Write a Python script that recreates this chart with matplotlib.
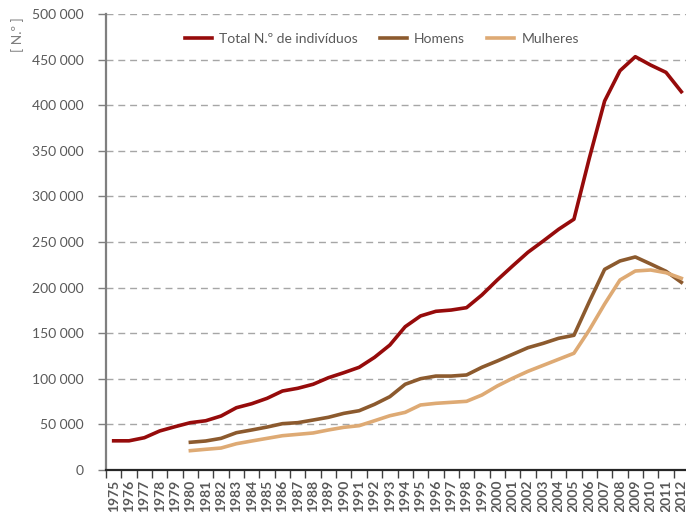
import matplotlib
matplotlib.use("Agg")
import matplotlib.pyplot as plt
import numpy as np
from matplotlib.ticker import FuncFormatter

# anos 1975-2012
anos = list(range(1975, 2013))

total = [32000, 32000, 35400, 42800, 47500, 51900, 54000, 59200, 68300, 72700,
         78600, 86600, 89600, 94000, 101200, 106700, 112600, 123500, 137000, 157100,
         168900, 174000, 175400, 178000, 191900, 208300, 223700, 238700, 251100, 263900,
         275000, 341700, 404600, 437800, 453200, 444000, 436000, 414800]

# homens e mulheres so a partir de 1980
homens = [30400, 31800, 34700, 40900, 43900, 47100, 50800, 51900, 54800, 57800,
          62100, 65000, 72000, 80400, 94000, 100100, 103000, 103000, 104200, 112600,
          119500, 126800, 134100, 138900, 144400, 147700, 184500, 220000, 229200, 233600,
          225900, 217900, 205800]

mulheres = [21200, 22700, 24100, 28800, 31800, 34700, 37600, 39100, 40600, 43900,
            46800, 48600, 54000, 59500, 63200, 71300, 73100, 74200, 75300, 82200,
            92100, 100500, 108200, 114800, 121400, 128000, 153500, 182000, 208300, 218200,
            219300, 216300, 210200]

labels = ["Total N.º de indivíduos", "Homens", "Mulheres"]
cores = ["#960B0B", "#8C5A2E", "#DEAA74"]
texto = "#595959"

plt.rcParams['font.family'] = ['Lato', 'DejaVu Sans']

fig = plt.figure(figsize=(6.86, 5.12), dpi=100)
ax = fig.add_axes([106 / 686, 42 / 512, 583 / 686, 456 / 512])

x_total = np.arange(len(anos))
x_sexo = np.arange(5, len(anos))

ax.plot(x_total, total, color=cores[0], lw=2.6, label=labels[0], zorder=3)
ax.plot(x_sexo, homens, color=cores[1], lw=2.6, label=labels[1], zorder=3)
ax.plot(x_sexo, mulheres, color=cores[2], lw=2.6, label=labels[2], zorder=3)

ax.set_xlim(-0.5, len(anos) - 0.5)
ax.set_ylim(0, 500000)
ax.set_yticks(np.arange(0, 500001, 50000))
ax.yaxis.set_major_formatter(FuncFormatter(lambda v, p: "0" if v == 0 else "{:,.0f}".format(v).replace(",", " ")))
ax.grid(axis='y', color='#A6A6A6', ls=(0, (5, 3.5)), lw=1)
ax.set_axisbelow(True)

# ticks nas fronteiras das categorias, rotulos ao centro
ax.set_xticks(np.arange(-0.5, len(anos), 1))
ax.set_xticklabels([])
ax.set_xticks(x_total, minor=True)
ax.set_xticklabels([str(a) for a in anos], minor=True, rotation=90,
                   fontsize=10, color=texto, fontweight='bold')
ax.tick_params(axis='x', which='major', length=6, width=1, color='#404040', direction='out')
ax.tick_params(axis='x', which='minor', length=0, pad=7)
ax.tick_params(axis='y', length=6, width=1, color='#7F7F7F', labelsize=10, labelcolor=texto, pad=10)

for lado in ['top', 'right']:
    ax.spines[lado].set_visible(False)
ax.spines['left'].set_color('#7F7F7F')
ax.spines['left'].set_linewidth(1.6)
ax.spines['bottom'].set_color('#262626')
ax.spines['bottom'].set_linewidth(1.6)

fig.text(18 / 686, 1 - 35 / 512, "[ N.º ]", rotation=90, ha='center', va='center',
         fontsize=10, color='#7F7F7F')

leg = ax.legend(loc='center', bbox_to_anchor=(382 / 686, 1 - 39 / 512),
                bbox_transform=fig.transFigure, ncol=3, frameon=False,
                fontsize=10, handlelength=1.9, columnspacing=1.6, handletextpad=0.55)
for t in leg.get_texts():
    t.set_color(texto)

fig.savefig("out.png", dpi=100)
